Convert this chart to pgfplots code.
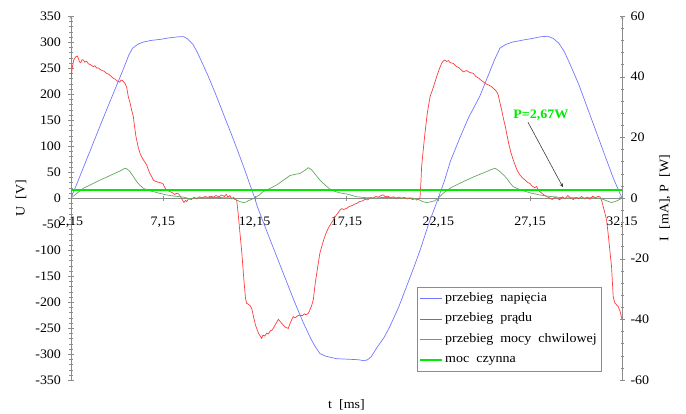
\documentclass[border=0pt]{standalone}
\usepackage{fontspec}
\setmainfont{Liberation Serif}[FakeStretch=1.08]
\usepackage{pgfplots}
\pgfplotsset{compat=1.18}
\definecolor{cU}{RGB}{115,120,255}
\definecolor{cI}{RGB}{255,60,60}
\definecolor{cP}{RGB}{95,170,95}
\definecolor{cPa}{RGB}{0,235,0}
\definecolor{axgray}{RGB}{140,140,140}
\definecolor{arrgray}{RGB}{60,60,60}

\pgfplotstableread{
t U
2.15 0
2.5 30
3.0 74
3.5 118
4.0 162
4.5 205
5.0 248
5.3 275
5.5 288
5.8 296
6.1 300
6.5 303
7.0 305
7.5 308
8.0 310
8.3 310
8.5 306
8.8 295
9.0 282
9.2 267
9.6 236
10.0 202
10.5 157
11.0 112
11.5 65
12.0 15
12.15 0
12.3 -17
12.8 -63
13.3 -108
13.8 -153
14.3 -198
14.8 -240
15.2 -270
15.4 -283
15.7 -299
16.0 -304
16.6 -309
17.2 -310
17.8 -311
18.1 -313
18.3 -311
18.5 -305
18.8 -288
19.2 -268
19.5 -248
20.0 -209
20.4 -172
20.8 -135
21.2 -96
21.6 -52
22.15 0
22.5 35
22.8 70
23.3 114
23.8 155
24.4 195
24.8 230
25.2 265
25.5 288
25.8 295
26.2 300
26.8 304
27.3 307
27.7 310
28.1 311
28.4 307
28.7 298
29.0 282
29.3 259
29.8 218
30.3 170
30.8 122
31.3 74
31.7 36
32.15 0
}\tabU

\pgfplotstableread{
t I
2.15 39.5
2.22 43
2.3 45.5
2.4 46.5
2.49 46.8
2.55 46
2.62 44.8
2.68 44.6
2.75 45.6
2.82 45.5
2.9 44.8
3.0 45.1
3.1 44.2
3.2 44.0
3.36 43.3
3.45 43.6
3.55 42.8
3.65 42.9
3.73 42.4
3.85 42.0
3.95 41.8
4.09 41.1
4.2 40.8
4.3 40.3
4.45 39.5
4.55 39.2
4.65 38.6
4.72 38.4
4.8 38.2
4.88 38.9
4.95 38.7
5.09 37.8
5.18 36.5
5.27 33.4
5.36 31.5
5.45 29
5.54 27
5.6 24
5.68 20.5
5.73 19
5.8 17
5.91 14.7
6.0 13.5
6.1 12.5
6.27 10.9
6.35 9.5
6.45 8
6.55 7
6.63 5.9
6.75 5.5
6.9 5.2
7.05 5.0
7.17 4.6
7.25 3.5
7.36 2.6
7.5 2.2
7.65 1.8
7.8 1.2
7.9 1.5
8.0 1.4
8.1 0.6
8.2 -0.5
8.3 -1.5
8.38 -0.8
8.45 -1.2
8.55 -0.3
8.7 -0.5
8.85 0.2
9.0 -0.3
9.15 0.4
9.3 0
9.45 0.5
9.6 0.2
9.75 0.6
9.9 0.3
10.05 0.8
10.2 0.4
10.35 1.0
10.5 0.5
10.6 1.2
10.7 0.3
10.8 0.8
10.9 -0.3
11.0 0.2
11.1 -0.5
11.17 -0.7
11.25 -5
11.35 -11.6
11.45 -18
11.55 -26
11.65 -33
11.71 -34.7
11.8 -35
11.9 -35.5
11.99 -36.4
12.1 -39.5
12.2 -42
12.26 -43
12.35 -44.5
12.45 -45.5
12.53 -46.3
12.6 -45.2
12.7 -45.5
12.8 -44.6
12.9 -44.8
13.0 -43.8
13.1 -43.5
13.16 -43
13.3 -41.5
13.44 -40
13.55 -40.8
13.65 -41.5
13.71 -41.9
13.8 -42.5
13.9 -42.8
13.98 -43
14.1 -41
14.25 -39.1
14.35 -39.5
14.5 -38.8
14.62 -38.6
14.75 -38.8
14.85 -38.2
14.95 -38.5
15.07 -38
15.15 -37
15.25 -35.5
15.34 -33.6
15.45 -28
15.55 -24
15.7 -18.2
15.8 -16
15.95 -13
16.07 -11.1
16.2 -9.5
16.3 -8.5
16.43 -7.3
16.55 -6
16.7 -4.8
16.79 -4
16.9 -3.5
17.0 -3.8
17.16 -3.4
17.3 -2.8
17.45 -2.5
17.6 -2.0
17.7 -1.8
17.85 -1.2
18.0 -1.0
18.15 -0.5
18.3 -0.6
18.45 0.1
18.6 0
18.75 0.5
18.9 0.3
19.05 0.9
19.15 1.0
19.25 0.4
19.4 0.6
19.55 0.1
19.7 0.4
19.85 -0.2
20.0 0.3
20.15 -0.1
20.3 0.2
20.45 -0.3
20.6 0
20.75 -0.5
20.9 -0.2
20.97 -0.7
21.08 -0.3
21.15 0
21.2 5
21.24 10.3
21.33 16
21.42 21.3
21.55 28
21.7 33.4
21.85 36
22.06 40
22.2 42.5
22.33 44.4
22.42 45.2
22.51 45.5
22.6 45
22.7 45.3
22.8 44.6
22.96 44.4
23.1 43.5
23.25 43
23.4 42.2
23.51 41.6
23.6 41.8
23.7 42
23.85 41.4
24.05 41.1
24.2 40
24.35 39.5
24.48 38.8
24.6 38.3
24.75 37.6
24.9 37.2
25.02 36.8
25.14 36.2
25.25 35.6
25.35 34.8
25.41 34
25.5 31.5
25.6 29
25.7 26
25.8 23.5
25.87 21.3
25.98 18
26.1 15
26.23 12.5
26.35 10.5
26.45 9
26.59 7.6
26.75 6.5
26.9 5.8
27.0 5.2
27.13 4.8
27.25 4.0
27.4 3.4
27.5 3.8
27.6 2.5
27.68 2.1
27.8 1.5
27.95 0.8
28.05 0.4
28.2 0.1
28.35 -0.5
28.5 0.3
28.6 0
28.75 -0.6
28.9 0.4
29.05 -0.3
29.2 0.8
29.35 0
29.5 -0.5
29.65 0.2
29.8 -0.2
29.95 0.5
30.1 -0.3
30.25 0.3
30.4 -0.4
30.55 0.6
30.7 0.1
30.85 0.5
30.95 0.4
31.05 -1
31.13 -2.9
31.22 -5
31.31 -7.3
31.4 -12
31.5 -18
31.58 -22.6
31.67 -32.5
31.75 -34.5
31.85 -35.2
31.95 -35.8
32.05 -37.5
32.15 -40
}\tabI

\pgfplotstableread{
t P
2.15 0
2.4 1.2
2.82 3.2
3.3 4.6
3.73 5.9
4.1 6.9
4.45 7.9
4.82 8.9
5.0 9.5
5.09 9.8
5.2 9.6
5.36 8.7
5.55 7.0
5.73 5.4
5.9 4.2
6.09 3.2
6.35 2.5
6.63 2.1
7.0 1.5
7.36 1.0
7.8 0.6
8.26 0.3
8.6 -0.2
9.0 0
9.5 0.1
10.0 0.2
10.5 0.1
10.9 0
11.17 -0.7
11.35 -1.2
11.53 -1.5
11.7 -1.3
11.8 -0.9
12.0 -0.4
12.15 0
12.4 1.0
12.62 2.1
13.0 3.2
13.35 4.3
13.7 5.8
14.07 7.4
14.35 7.8
14.62 8.1
14.85 9
15.07 10
15.25 9.3
15.45 7.8
15.7 5.9
16.0 4.2
16.25 2.9
16.5 2.2
16.79 1.7
17.25 1.2
17.7 0.4
18.2 0.1
18.7 0
19.2 0.2
19.7 0.1
20.2 0
20.7 0
21.0 -0.3
21.15 -0.7
21.3 -1.2
21.51 -1.5
21.7 -1.3
21.97 -0.9
22.05 -0.4
22.15 0
22.4 1.5
22.78 3.2
23.2 4.5
23.69 5.9
24.05 6.9
24.41 7.8
24.78 8.7
25.0 9.3
25.23 9.8
25.35 9.4
25.5 8.7
25.7 7.6
25.87 6.5
26.05 5.0
26.23 3.7
26.5 3.0
26.77 2.4
27.2 1.6
27.68 1.0
28.1 0.6
28.6 0.3
29.0 0
29.5 0.1
30.0 0
30.5 0.1
30.9 0
31.1 -0.4
31.31 -0.9
31.58 -1.5
31.8 -1.1
31.95 -0.7
32.15 0
}\tabP

\pgfplotstableread{
t P
2.15 2.67
32.15 2.67
}\tabPa

\begin{document}
\fontsize{13pt}{15pt}\selectfont
\begin{tikzpicture}
\useasboundingbox (0,0) rectangle (686bp,414bp);
\pgfplotsset{
  common/.style={
    at={(71bp,34bp)}, anchor=south west,
    width=551bp, height=364bp, scale only axis,
    xmin=2.15, xmax=32.15,
    axis line style={axgray, -},
    tick style={axgray},
    tick align=outside,
    major tick length=5bp, minor tick length=3bp,
    tick label style={black},
    /pgf/number format/assume math mode=true,
    hide obscured x ticks=false, hide obscured y ticks=false,
    clip=true,
  }
}
\begin{axis}[common,
  ymin=-350, ymax=350,
  axis x line=middle, axis y line=left,
  xtick={2.15,7.15,12.15,17.15,22.15,27.15,32.15},
  xticklabels={{2,15},{7,15},{12,15},{17,15},{22,15},{27,15},{32,15}},
  x tick label style={yshift=-12bp},
  ytick={-350,-300,...,350},
  minor y tick num=4,
  y tick label style={xshift=-3bp},
  xlabel={t\ \ [ms]},
  xlabel style={at={(axis description cs:0.5,-0.0687)}, anchor=center},
  ylabel={U\ \ [V]},
  ylabel style={at={(axis description cs:-0.0907,0.5)}, anchor=center, rotate=0},
  legend image code/.code={\draw[#1] (0bp,0bp) -- (22bp,0bp);},
  legend cell align=left,
  legend style={at={(axis description cs:0.628,0.2555)}, anchor=north west,
    draw=axgray, fill=white, inner xsep=2bp, inner ysep=1bp, row sep=0bp,
    nodes={inner ysep=4bp, text height=9bp, text depth=3.5bp}},
]
\addplot[color=cU, line width=0.7bp] table[x=t,y=U] {\tabU};
\addlegendentry{przebieg\ \ napięcia}
\addlegendimage{color=cI, line width=0.8bp}
\addlegendentry{przebieg\ \ prądu}
\addlegendimage{color=cP, line width=0.8bp}
\addlegendentry{przebieg\ \ mocy\ \ chwilowej}
\addlegendimage{color=cPa, line width=2bp}
\addlegendentry{moc\ \ czynna}
\end{axis}
\begin{axis}[common,
  ymin=-60, ymax=60,
  axis x line=none, axis y line=right,
  ytick={-60,-40,...,60},
  minor y tick num=4,
  y tick label style={xshift=1.5bp},
  ylabel={I\ \ [mA],\ P\ \ [W]},
  ylabel style={at={(axis description cs:1.078,0.5)}, anchor=center, rotate=0},
]
\addplot[color=cI, line width=0.7bp] table[x=t,y=I] {\tabI};
\addplot[color=cP, line width=0.7bp] table[x=t,y=P] {\tabP};
\addplot[color=cPa, line width=2bp] table[x=t,y=P] {\tabPa};
\node[text=cPa, font=\bfseries, inner sep=0pt] at (axis cs:27.73,27.4) {P=2,67W};
\draw[-stealth, arrgray, line width=0.6bp] (axis cs:27.03,25.0) -- (axis cs:28.93,3.6);
\end{axis}
\end{tikzpicture}
\end{document}
